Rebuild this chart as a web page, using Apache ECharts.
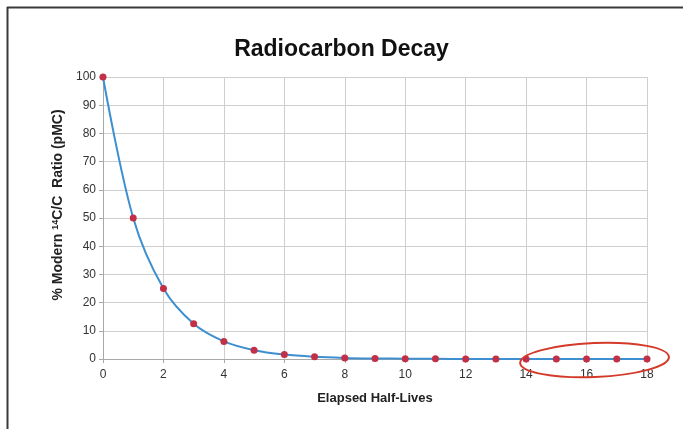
<!DOCTYPE html>
<html>
<head>
<meta charset="utf-8">
<script src="https://cdn.jsdelivr.net/npm/echarts@6/dist/echarts.min.js"></script>
<style>html,body{margin:0;padding:0;background:#fff}#c{width:683px;height:429px}</style>
</head>
<body>
<div id="c"></div>
<script>
const halfLives = [0,1,2,3,4,5,6,7,8,9,10,11,12,13,14,15,16,17,18];
const pmcValues = [100,50,25,12.5,6.25,3.13,1.56,0.78,0.39,0.2,0.1,0.05,0.02,0.01,0.006,0.003,0.002,0.001,0.0004];
const titleText = 'Radiocarbon Decay';
const xName = 'Elapsed Half-Lives';
const highlightRange = [14, 18];

const chart = echarts.init(document.getElementById('c'), null, {renderer: 'canvas'});
const font = '"Liberation Sans", Arial, Helvetica, sans-serif';
chart.setOption({
  backgroundColor: '#ffffff',
  animation: false,
  title: {
    text: titleText, left: 'center', top: 33,
    textStyle: {fontFamily: font, fontSize: 23, fontWeight: 'bold', color: '#111'}
  },
  grid: {left: 103, right: 36, top: 77, bottom: 70},
  xAxis: {
    type: 'value', min: 0, max: 18, interval: 2,
    name: xName, nameLocation: 'middle', nameGap: 33,
    nameTextStyle: {fontFamily: font, fontSize: 13, fontWeight: 'bold', color: '#222'},
    axisLine: {lineStyle: {color: '#a8a8a8', width: 1}},
    axisTick: {show: true, length: 4, lineStyle: {color: '#a8a8a8'}},
    axisLabel: {fontFamily: font, fontSize: 12, color: '#333', margin: 10},
    splitLine: {show: true, lineStyle: {color: '#cfcfcf', width: 1}}
  },
  yAxis: {
    type: 'value', min: 0, max: 100, interval: 10,
    name: '% Modern {sup|14}C/C  Ratio (pMC)', nameLocation: 'middle', nameGap: 37,
    nameTextStyle: {fontFamily: font, fontSize: 14, fontWeight: 'bold', color: '#222',
      padding: [0, 0, 0, 26],
      rich: {sup: {fontFamily: font, fontSize: 9, fontWeight: 'bold', color: '#222', verticalAlign: 'top', padding: [0,0,6,0]}}},
    axisLine: {show: true, lineStyle: {color: '#a8a8a8', width: 1}},
    axisTick: {show: true, length: 4, lineStyle: {color: '#a8a8a8'}},
    axisLabel: {fontFamily: font, fontSize: 12, color: '#333', margin: 7},
    splitLine: {show: true, lineStyle: {color: '#cfcfcf', width: 1}}
  },
  series: [{
    type: 'line',
    data: halfLives.map((x, i) => [x, pmcValues[i]]),
    smooth: 0.35,
    symbol: 'circle', symbolSize: 7,
    lineStyle: {color: '#3d8fcf', width: 2},
    itemStyle: {color: '#c23048'},
    z: 3
  }]
});

const p0 = chart.convertToPixel({gridIndex: 0}, [highlightRange[0], 0]);
const p1 = chart.convertToPixel({gridIndex: 0}, [highlightRange[1], 0]);
const cx = (p0[0] + p1[0]) / 2 + 8;
const rx = (p1[0] - p0[0]) / 2 + 14;
chart.setOption({
  graphic: [
    {type: 'ellipse', shape: {cx: 0, cy: 0, rx: rx, ry: 17}, x: cx, y: p0[1] + 1, rotation: 0.04,
     style: {fill: 'none', stroke: '#d43a2a', lineWidth: 2}, z: 10},
    {type: 'line', shape: {x1: 7.5, y1: 7, x2: 7.5, y2: 429}, style: {stroke: '#3a3a3a', lineWidth: 2}},
    {type: 'line', shape: {x1: 7, y1: 7.5, x2: 683, y2: 7.5}, style: {stroke: '#3a3a3a', lineWidth: 2}}
  ]
});
</script>
</body>
</html>
